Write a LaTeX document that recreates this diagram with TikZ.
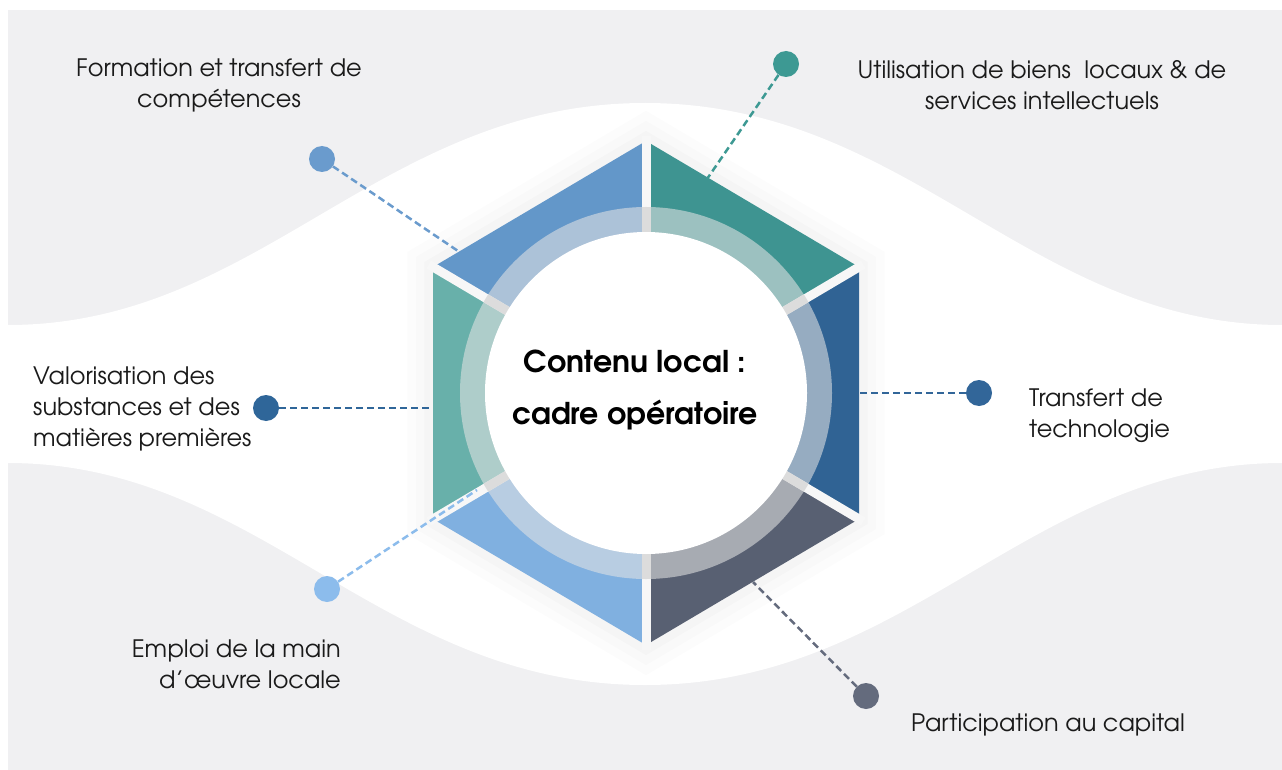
\documentclass[tikz,border=0pt]{standalone}
\usepackage{fontspec}
\setmainfont{texgyreadventor}[Extension=.otf, UprightFont=*-regular, BoldFont=*-bold]
\usetikzlibrary{calc}
\definecolor{bggray}{HTML}{F0F0F2}
\definecolor{cTL}{HTML}{6397C9}
\definecolor{cTR}{HTML}{3E9491}
\definecolor{cR}{HTML}{306394}
\definecolor{cBR}{HTML}{586072}
\definecolor{cBL}{HTML}{80B0E0}
\definecolor{cL}{HTML}{68B0AA}
\definecolor{dF}{HTML}{6A9BCD}
\definecolor{dU}{HTML}{3D9993}
\definecolor{dV}{HTML}{2F6699}
\definecolor{dT}{HTML}{326699}
\definecolor{dE}{HTML}{8CBCEC}
\definecolor{dP}{HTML}{646B7D}
\definecolor{ringc}{HTML}{E4E4E4}
\definecolor{gapg}{HTML}{DCDCDC}
\definecolor{gapw}{HTML}{F7F7F7}
\definecolor{txt}{HTML}{1A1A1A}
\begin{document}
\begin{tikzpicture}[x=1pt,y=-1pt,
  lbl/.style={font=\fontsize{24}{31}\selectfont, text=txt, inner sep=0pt},
  dotnode/.style={circle, minimum size=26pt, inner sep=0pt, fill=#1},
  conn/.style={draw=#1, line width=2.5pt, dash pattern=on 7pt off 4pt},
  gapline/.style={line width=9pt, draw=#1},
]
\useasboundingbox (0,0) rectangle (1282,770);
\fill[white] (0,0) rectangle (1282,770);
\fill[bggray] (8,10) rectangle (1282,770);
\fill[white] (8,325) .. controls (260,325) and (380,103) .. (645,103)
  .. controls (910,103) and (1030,325) .. (1282,325) -- (1282,463)
  .. controls (1030,463) and (910,685) .. (645,685)
  .. controls (380,685) and (260,463) .. (8,463) -- cycle;

\coordinate (c) at (646,393);
\coordinate (v1) at (646,141);
\coordinate (v2) at (859,267);
\coordinate (v3) at (859,519);
\coordinate (v4) at (646,645);
\coordinate (v5) at (433,519);
\coordinate (v6) at (433,267);

% faint halo
\foreach \s/\o in {1.12/0.012,1.08/0.012,1.04/0.015}
  \fill[black, opacity=\o] ($(c)!\s!(v1)$)--($(c)!\s!(v2)$)--($(c)!\s!(v3)$)--($(c)!\s!(v4)$)--($(c)!\s!(v5)$)--($(c)!\s!(v6)$)--cycle;

\fill[cTL] (c)--(v6)--(v1)--cycle;
\fill[cTR] (c)--(v1)--(v2)--cycle;
\fill[cR]  (c)--(v2)--(v3)--cycle;
\fill[cBR] (c)--(v3)--(v4)--cycle;
\fill[cBL] (c)--(v4)--(v5)--cycle;
\fill[cL]  (c)--(v5)--(v6)--cycle;

\foreach \v in {v1,v2,v3,v4,v5,v6}
  \draw[gapline=gapw] (c) -- ($(c)!1.02!(\v)$);

\fill[ringc, opacity=0.57] (c) circle[radius=186];
\begin{scope}
  \clip (c) circle[radius=186];
  \foreach \v in {v1,v2,v3,v4,v5,v6}
    \draw[gapline=gapg] (c) -- (\v);
\end{scope}

\node[circle, fill=white, minimum size=322pt, inner sep=0pt] (core) at (c) {};
\node[font=\bfseries\fontsize{30}{52}\selectfont, align=center, anchor=base, inner sep=0pt] (title) at (635,424)
  {Contenu local :\\cadre opératoire};

% dots
\node[dotnode=dF] (pF) at (322,159) {};
\node[dotnode=dU] (pU) at (786,64) {};
\node[dotnode=dV] (pV) at (266,408) {};
\node[dotnode=dT] (pT) at (979,393) {};
\node[dotnode=dE] (pE) at (327,589) {};
\node[dotnode=dP] (pP) at (866,696) {};

\coordinate (eF) at (458,251);
\coordinate (eU) at (707,179);
\coordinate (eV) at (433,408);
\coordinate (eT) at (859,393);
\coordinate (eE) at (477,490);
\coordinate (eP) at (753,582);

\draw[conn=dF] (pF) -- (eF);
\draw[conn=dU] (pU) -- (eU);
\draw[conn=dV] (pV) -- (eV);
\draw[conn=dT] (pT) -- (eT);
\draw[conn=dE] (pE) -- (eE);
\draw[conn=dP] (pP) -- (eP);

% labels (anchor base = baseline of last line)
\node[lbl, align=center, anchor=base] (lF) at (219,108) {Formation et transfert de\\compétences};
\node[lbl, align=center, anchor=base] (lU) at (1042,110) {Utilisation de biens\ \ locaux \& de\\services intellectuels};
\node[lbl, align=left, anchor=base west] (lV) at (33,446) {Valorisation des\\substances et des\\matières premières};
\node[lbl, align=left, anchor=base west] (lT) at (1029,437) {Transfert de\\technologie};
\node[lbl, align=right, anchor=base east] (lE) at (341,688) {Emploi de la main\\d’œuvre locale};
\node[lbl, anchor=base west] (lP) at (911,731) {Participation au capital};
\end{tikzpicture}
\end{document}
